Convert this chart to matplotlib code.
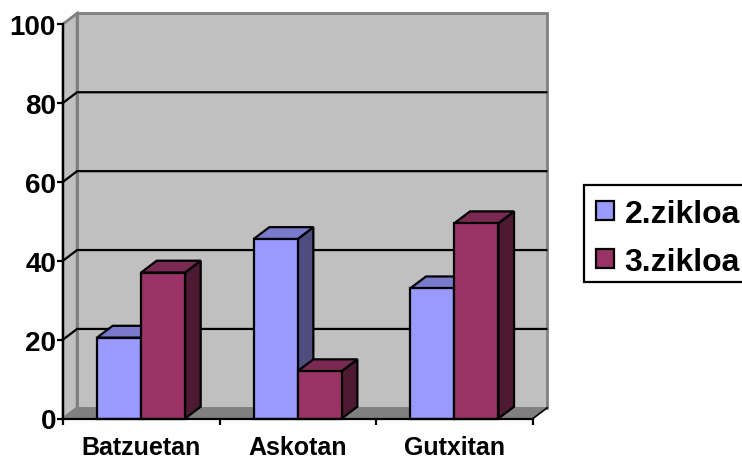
import matplotlib
matplotlib.use('Agg')
import matplotlib.pyplot as plt
from matplotlib.patches import Polygon, Patch, Rectangle

plt.rcParams['font.family'] = ['Liberation Sans', 'DejaVu Sans']
plt.rcParams['font.weight'] = 'bold'

categories = ['Batzuetan', 'Askotan', 'Gutxitan']
zikloa2 = [20.5, 45.5, 33]
zikloa3 = [37, 12, 49.5]
y_ticks = [0, 20, 40, 60, 80, 100]

fig = plt.figure(figsize=(7.42, 4.6), dpi=100)
ax = fig.add_axes([63 / 742, 1 - 419.5 / 460, 470 / 742, 394.5 / 460])
ax.set_xlim(0, 3)
ax.set_ylim(0, 100)
ax.patch.set_visible(False)

# depth of the fake 3d box, data units
wall_dx = 0.09
wall_dy = 2.7
bar_dx = 0.1
bar_dy = 3.0
bar_w = 0.281
bar_off = 0.217


def poly(pts, fc, ec='black', lw=1.6, z=3):
    ax.add_patch(Polygon(pts, closed=True, facecolor=fc, edgecolor=ec, linewidth=lw,
                         zorder=z, clip_on=False, joinstyle='miter'))


# walls and floor
poly([(wall_dx, wall_dy), (3 + wall_dx, wall_dy), (3 + wall_dx, 100 + wall_dy), (wall_dx, 100 + wall_dy)],
     '#C0C0C0', '#808080', 2, 1)
poly([(0, 0), (wall_dx, wall_dy), (wall_dx, 100 + wall_dy), (0, 100)], '#C0C0C0', '#808080', 2, 1)
poly([(0, 0), (3, 0), (3 + wall_dx, wall_dy), (wall_dx, wall_dy)], '#808080', '#808080', 0.5, 1.5)

# grid lines bend round the side wall
for t in y_ticks[1:-1]:
    ax.plot([0, wall_dx, 3 + wall_dx - 0.005], [t, t + wall_dy, t + wall_dy], color='black', lw=1.6,
            zorder=2, clip_on=False, solid_joinstyle='miter')
ax.plot([3, 3 + wall_dx], [0, wall_dy], color='black', lw=1.2, zorder=2, clip_on=False)


def bar3d(x, h, front, top, side):
    poly([(x + bar_w, 0), (x + bar_w + bar_dx, bar_dy), (x + bar_w + bar_dx, h + bar_dy), (x + bar_w, h)], side)
    poly([(x, h), (x + bar_dx, h + bar_dy), (x + bar_w + bar_dx, h + bar_dy), (x + bar_w, h)], top)
    poly([(x, 0), (x + bar_w, 0), (x + bar_w, h), (x, h)], front)


for i in range(len(categories)):
    bar3d(i + bar_off, zikloa2[i], '#9999FF', '#7A7ACC', '#4D4D80')
    bar3d(i + bar_off + bar_w, zikloa3[i], '#993366', '#7A2952', '#4D1933')

for s in ['top', 'right']:
    ax.spines[s].set_visible(False)
for s in ['left', 'bottom']:
    ax.spines[s].set_linewidth(1.6)
    ax.spines[s].set_zorder(5)

ax.set_yticks(y_ticks)
ax.tick_params(axis='y', labelsize=20, length=4, width=1.6, pad=1)
ax.set_xticks([0, 1, 2, 3])
ax.set_xticklabels([])
ax.tick_params(axis='x', which='major', length=4, width=1.6)
ax.set_xticks([0.5, 1.5, 2.5], minor=True)
ax.set_xticklabels(categories, minor=True, fontsize=18)
ax.tick_params(axis='x', which='minor', length=0, pad=12)

# legend box runs off the right edge, so it is drawn apart from the legend
fig.add_artist(Rectangle((584 / 742, 1 - 283 / 460), 170 / 742, 97 / 460, transform=fig.transFigure,
                         facecolor='white', edgecolor='black', linewidth=1.6))
handles = [Patch(facecolor='#9999FF', edgecolor='black', linewidth=1.6, label='2.zikloa'),
           Patch(facecolor='#993366', edgecolor='black', linewidth=1.6, label='3.zikloa')]
leg = fig.legend(handles=handles, loc='upper left', bbox_to_anchor=(584 / 742, 1 - 188 / 460),
                 bbox_transform=fig.transFigure, fontsize=23, frameon=False, borderaxespad=0,
                 borderpad=0.375, handlelength=0.56, handleheight=0.56, handletextpad=0.34,
                 labelspacing=0.56)

fig.savefig('out.png', dpi=100)
